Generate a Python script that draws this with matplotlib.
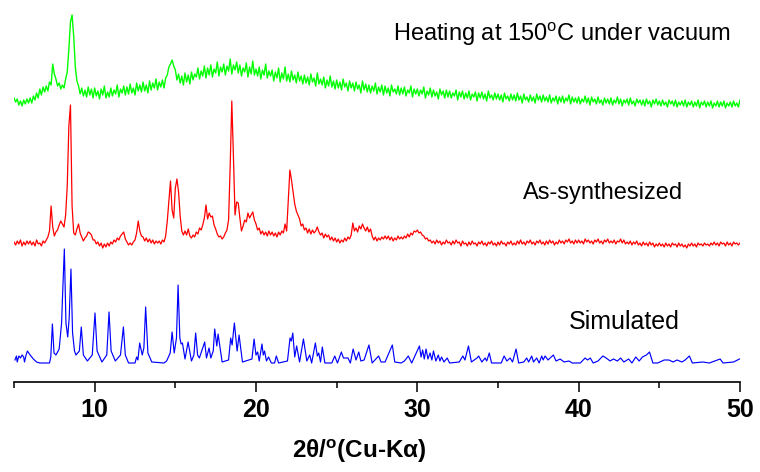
import matplotlib.pyplot as plt
import numpy as np

# scan step of the measured patterns (deg 2theta)
two_theta = np.round(np.arange(5.0, 50.05, 0.1), 1)

# heated sample (a.u.), one value per 0.1 deg from 5.0 to 50.0
heated = [
    14, 10, 13, 7, 11, 6, 12, 8, 13, 9,
    14, 9, 16, 12, 19, 14, 23, 17, 25, 20,
    26, 21, 30, 27, 48, 38, 33, 26, 29, 23,
    27, 24, 33, 40, 63, 90, 97, 76, 45, 31,
    26, 18, 24, 16, 22, 15, 25, 17, 23, 14,
    24, 16, 21, 13, 23, 17, 26, 14, 20, 15,
    24, 16, 22, 18, 27, 15, 23, 19, 26, 17,
    25, 18, 28, 19, 24, 17, 29, 21, 27, 20,
    30, 21, 27, 19, 31, 22, 29, 24, 33, 22,
    30, 25, 32, 24, 34, 37, 45, 48, 52, 46,
    42, 32, 38, 29, 36, 27, 39, 30, 37, 28,
    40, 32, 38, 35, 44, 33, 41, 36, 46, 34,
    44, 37, 47, 35, 43, 39, 50, 36, 45, 40,
    48, 37, 46, 41, 53, 38, 47, 42, 50, 39,
    47, 36, 44, 40, 49, 35, 45, 38, 51, 37,
    43, 36, 45, 33, 42, 37, 48, 34, 41, 36,
    42, 31, 40, 34, 44, 30, 39, 33, 45, 31,
    38, 30, 41, 32, 37, 29, 40, 31, 36, 28,
    37, 29, 35, 27, 38, 30, 34, 26, 39, 28,
    33, 27, 35, 24, 32, 26, 36, 25, 31, 23,
    32, 24, 30, 22, 33, 25, 29, 21, 31, 24,
    29, 21, 30, 23, 27, 19, 31, 22, 28, 20,
    27, 19, 26, 21, 29, 18, 25, 20, 27, 17,
    26, 19, 24, 16, 27, 20, 23, 18, 26, 17,
    24, 18, 25, 16, 22, 19, 26, 15, 23, 18,
    23, 16, 22, 18, 25, 14, 21, 17, 24, 15,
    22, 16, 20, 13, 23, 17, 21, 14, 22, 15,
    21, 14, 19, 16, 22, 12, 20, 15, 21, 13,
    19, 14, 21, 12, 18, 15, 20, 11, 19, 14,
    20, 13, 18, 11, 21, 14, 17, 12, 19, 13,
    18, 12, 17, 10, 19, 13, 16, 11, 18, 12,
    17, 11, 19, 12, 16, 9, 18, 12, 15, 10,
    17, 11, 15, 9, 18, 12, 16, 10, 17, 11,
    15, 10, 17, 9, 14, 11, 16, 8, 15, 10,
    16, 9, 14, 11, 17, 8, 15, 10, 14, 9,
    15, 8, 13, 10, 16, 9, 14, 7, 15, 10,
    13, 8, 15, 9, 12, 7, 14, 9, 13, 8,
    14, 7, 12, 9, 15, 8, 13, 6, 12, 9,
    13, 7, 14, 8, 11, 6, 13, 9, 12, 7,
    12, 6, 13, 8, 11, 5, 12, 8, 13, 7,
    11, 6, 12, 7, 10, 5, 12, 8, 11, 6,
    12, 5, 10, 7, 11, 6, 12, 5, 10, 7,
    11, 5, 10, 6, 12, 4, 10, 7, 11, 5,
    10, 6, 11, 4, 9, 6, 11, 5, 10, 6,
    11, 4, 9, 6, 10, 5, 11, 6, 9, 5,
    12,
]

# as-synthesized sample (a.u.)
synth = [
    4, 1, 5, 2, 6, 0, 4, 1, 5, 2,
    5, 1, 4, 0, 6, 2, 3, 0, 5, 3,
    6, 9, 15, 40, 19, 10, 14, 16, 21, 25,
    22, 19, 31, 60, 120, 141, 40, 13, 11, 17,
    22, 13, 9, 5, 8, 10, 14, 13, 11, 6,
    6, 2, 4, 0, 3, -2, 2, -1, 3, 0,
    4, 2, 6, 4, 8, 6, 10, 12, 14, 7,
    4, 1, 3, 1, 4, 6, 13, 25, 15, 10,
    9, 5, 8, 4, 7, 3, 6, 2, 5, 3,
    5, 2, 6, 4, 10, 25, 45, 65, 36, 28,
    58, 67, 54, 30, 15, 11, 15, 11, 17, 10,
    8, 11, 9, 14, 12, 18, 16, 21, 28, 41,
    27, 33, 29, 30, 21, 17, 12, 9, 10, 7,
    9, 13, 16, 26, 80, 145, 90, 31, 44, 43,
    28, 15, 20, 26, 24, 33, 28, 31, 34, 26,
    22, 16, 18, 12, 15, 11, 14, 10, 15, 11,
    14, 10, 13, 9, 14, 11, 15, 13, 22, 15,
    45, 76, 66, 54, 42, 35, 31, 27, 20, 22,
    16, 18, 13, 17, 12, 16, 13, 15, 19, 14,
    11, 13, 8, 12, 9, 11, 6, 9, 5, 8,
    4, 7, 3, 6, 4, 8, 5, 9, 7, 11,
    23, 15, 18, 14, 20, 17, 22, 18, 15, 19,
    14, 17, 10, 6, 9, 5, 8, 6, 9, 7,
    10, 7, 10, 6, 9, 5, 8, 6, 10, 7,
    9, 7, 10, 8, 12, 9, 13, 11, 15, 14,
    16, 13, 14, 11, 10, 7, 8, 5, 6, 3,
    5, 2, 6, 3, 5, 1, 4, 2, 6, 3,
    4, 1, 5, 2, 6, 3, 4, 0, 5, 2,
    3, 0, 4, 1, 5, 2, 3, 0, 4, 2,
    5, 1, 3, 0, 4, 2, 5, 1, 3, 0,
    4, 1, 5, 2, 3, 0, 4, 2, 5, 1,
    3, 1, 5, 2, 6, 2, 4, 1, 5, 3,
    6, 2, 4, 1, 5, 3, 6, 2, 4, 1,
    5, 2, 6, 3, 5, 1, 4, 2, 6, 3,
    5, 2, 6, 4, 7, 3, 5, 2, 6, 3,
    6, 3, 5, 2, 7, 4, 6, 3, 5, 2,
    6, 4, 7, 3, 5, 2, 6, 4, 7, 3,
    5, 3, 6, 2, 5, 4, 7, 3, 6, 2,
    4, 2, 5, 1, 4, 2, 5, 1, 3, 0,
    4, 1, 3, 0, 4, 1, 3, -1, 2, 0,
    3, 0, 2, -1, 3, 0, 2, -1, 3, 1,
    2, -1, 3, 0, 2, -1, 1, -2, 2, 0,
    3, 0, 2, -1, 3, 1, 2, 0, 3, 1,
    2, 0, 3, 1, 4, 1, 3, 0, 4, 2,
    3, 0, 4, 1, 3, 0, 4, 2, 3, 1,
    3,
]

# simulated pattern: points
sim_x = [
    5.06, 5.15, 5.2, 5.3, 5.4, 5.5, 5.6, 5.65, 5.75, 5.83, 6.0, 6.2, 6.4, 6.6, 7.2,
    7.28, 7.38, 7.48, 7.6, 7.8, 7.95, 8.0, 8.12, 8.22, 8.33, 8.42, 8.53, 8.63, 8.75,
    8.84, 9.05, 9.17, 9.3, 9.55, 9.85, 10.02, 10.15, 10.45, 10.75, 10.89, 11.02,
    11.28, 11.6, 11.78, 11.9, 12.1, 12.5, 12.6, 12.68, 12.79, 12.95, 13.05, 13.16,
    13.3, 13.54, 14.3, 14.46, 14.68, 14.8, 14.93, 15.07, 15.17, 15.28, 15.36, 15.44,
    15.6, 15.79, 16.0, 16.15, 16.26, 16.38, 16.49, 16.82, 16.93, 17.09, 17.2, 17.35,
    17.44, 17.57, 17.65, 17.9, 18.3, 18.43, 18.52, 18.66, 18.83, 18.95, 19.16, 19.75,
    19.88, 20.0, 20.1, 20.2, 20.37, 20.45, 20.53, 20.65, 20.78, 20.95, 21.15, 21.26,
    21.4, 21.95, 22.11, 22.19, 22.28, 22.4, 22.52, 22.7, 22.94, 23.15, 23.33, 23.45,
    23.68, 23.8, 23.89, 24.0, 24.11, 24.27, 24.7, 24.88, 25.05, 25.29, 25.42, 25.7,
    25.85, 26.02, 26.2, 26.37, 26.5, 26.7, 27.0, 27.2, 27.6, 27.75, 28.0, 28.45,
    28.6, 29.0, 29.2, 29.44, 29.65, 30.13, 30.23, 30.33, 30.43, 30.54, 30.66, 30.79,
    30.9, 31.0, 31.15, 31.3, 31.4, 31.5, 31.65, 31.85, 32.0, 32.6, 32.82, 32.95,
    33.17, 33.35, 33.7, 33.8, 34.0, 34.2, 34.3, 34.46, 34.6, 35.2, 35.38, 35.55,
    35.75, 35.9, 36.12, 36.28, 36.6, 36.78, 36.9, 37.09, 37.2, 37.4, 37.55, 37.71,
    37.8, 37.92, 38.1, 38.43, 38.6, 38.85, 39.1, 39.4, 39.6, 40.1, 40.4, 40.55,
    40.72, 40.9, 41.2, 41.5, 41.7, 41.95, 42.15, 42.4, 42.6, 42.8, 43.1, 43.3,
    43.54, 43.75, 43.95, 44.2, 44.39, 44.6, 44.9, 45.3, 45.6, 45.85, 46.1, 46.4,
    46.6, 46.86, 47.05, 47.7, 48.1, 48.77, 48.95, 49.6, 49.97,
]
sim_y = [
    3, 7, 1, 7, 5, 8, 6, 1, 8, 12, 8, 4, 1, 0, 0,
    6, 39, 10, 8, 14, 40, 63, 114, 40, 26, 45, 94, 30, 12,
    8, 12, 36, 8, 2, 8, 50, 12, 1, 8, 51, 12,
    2, 8, 36, 8, 0, 0, 6, 3, 20, 8, 15, 56,
    10, 1, 0, 2, 10, 31, 10, 25, 78, 25, 19, 20,
    4, 21, 2, 8, 30, 8, 5, 21, 5, 15, 5, 12,
    34, 17, 29, 1, 3, 25, 18, 40, 12, 28, 1, 4,
    24, 8, 11, 2, 19, 8, 12, 2, 6, 0, 0, 7,
    0, 2, 25, 22, 30, 6, 17, 1, 24, 2, 8, 0,
    20, 7, 10, 1, 16, 0, 0, 7, 0, 11, 5, 5,
    0, 14, 3, 11, 2, 3, 18, 0, 7, 1, 1, 18,
    1, 0, 2, 7, 0, 17, 6, 13, 4, 14, 4, 10,
    3, 12, 2, 8, 2, 6, 1, 5, 0, 1, 7, 3,
    17, 1, 5, 7, 1, 5, 2, 10, 0, 0, 7, 2,
    5, 1, 14, 0, 1, 5, 1, 7, 1, 5, 0, 7,
    3, 7, 3, 8, 2, 4, 1, 2, 0, 0, 5, 3,
    5, 0, 2, 7, 5, 2, 4, 2, 5, 1, 4, 0,
    6, 2, 6, 8, 11, 0, 0, 3, 3, 1, 3, 1,
    3, 7, 0, 1, 0, 4, 0, 1, 4,
]

labels = ["Heating at 150$^{\\rm o}$C under vacuum", "As-synthesized", "Simulated"]
offsets = [270, 136, 19]
colors = ["#00ff00", "#ff0000", "#0000ff"]

plt.rcParams['font.family'] = ['Liberation Sans', 'DejaVu Sans']
plt.rcParams['mathtext.fontset'] = 'custom'
plt.rcParams['mathtext.rm'] = 'Liberation Sans'
plt.rcParams['mathtext.bf'] = 'Liberation Sans:bold'

fig = plt.figure(figsize=(7.6, 4.72), dpi=100)
ax = fig.add_axes([14 / 760, 90 / 472, 726 / 760, 382 / 472])

ax.plot(two_theta, np.array(heated) + offsets[0], color=colors[0], lw=1.0)
ax.plot(two_theta, np.array(synth) + offsets[1], color=colors[1], lw=0.9)
ax.plot(sim_x, np.array(sim_y) + offsets[2], color=colors[2], lw=0.85)

ax.text(38.97, 348, labels[0], ha='center', va='center', fontsize=17)
ax.text(41.5, 189, labels[1], ha='center', va='center', fontsize=17)
ax.text(42.8, 60, labels[2], ha='center', va='center', fontsize=18)

ax.set_xlim(5, 50)
ax.set_ylim(0, 382)
for side in ['left', 'right', 'top']:
    ax.spines[side].set_visible(False)
ax.spines['bottom'].set_linewidth(1.2)
ax.set_yticks([])
ax.set_xticks([10, 20, 30, 40, 50])
ax.set_xticks([5, 15, 25, 35, 45], minor=True)
ax.tick_params(axis='x', which='major', direction='out', length=7.5, width=1.1, pad=4)
ax.tick_params(axis='x', which='minor', direction='out', length=4.5, width=1.1)
for lab in ax.get_xticklabels():
    lab.set_fontweight('bold')
    lab.set_fontsize(18)

ax.set_xlabel("2θ/$^{\\mathbf{o}}$(Cu-Kα)", fontsize=17.5, fontweight='bold')
ax.xaxis.set_label_coords(0.475, -0.145)

fig.savefig("out.png", dpi=100)
